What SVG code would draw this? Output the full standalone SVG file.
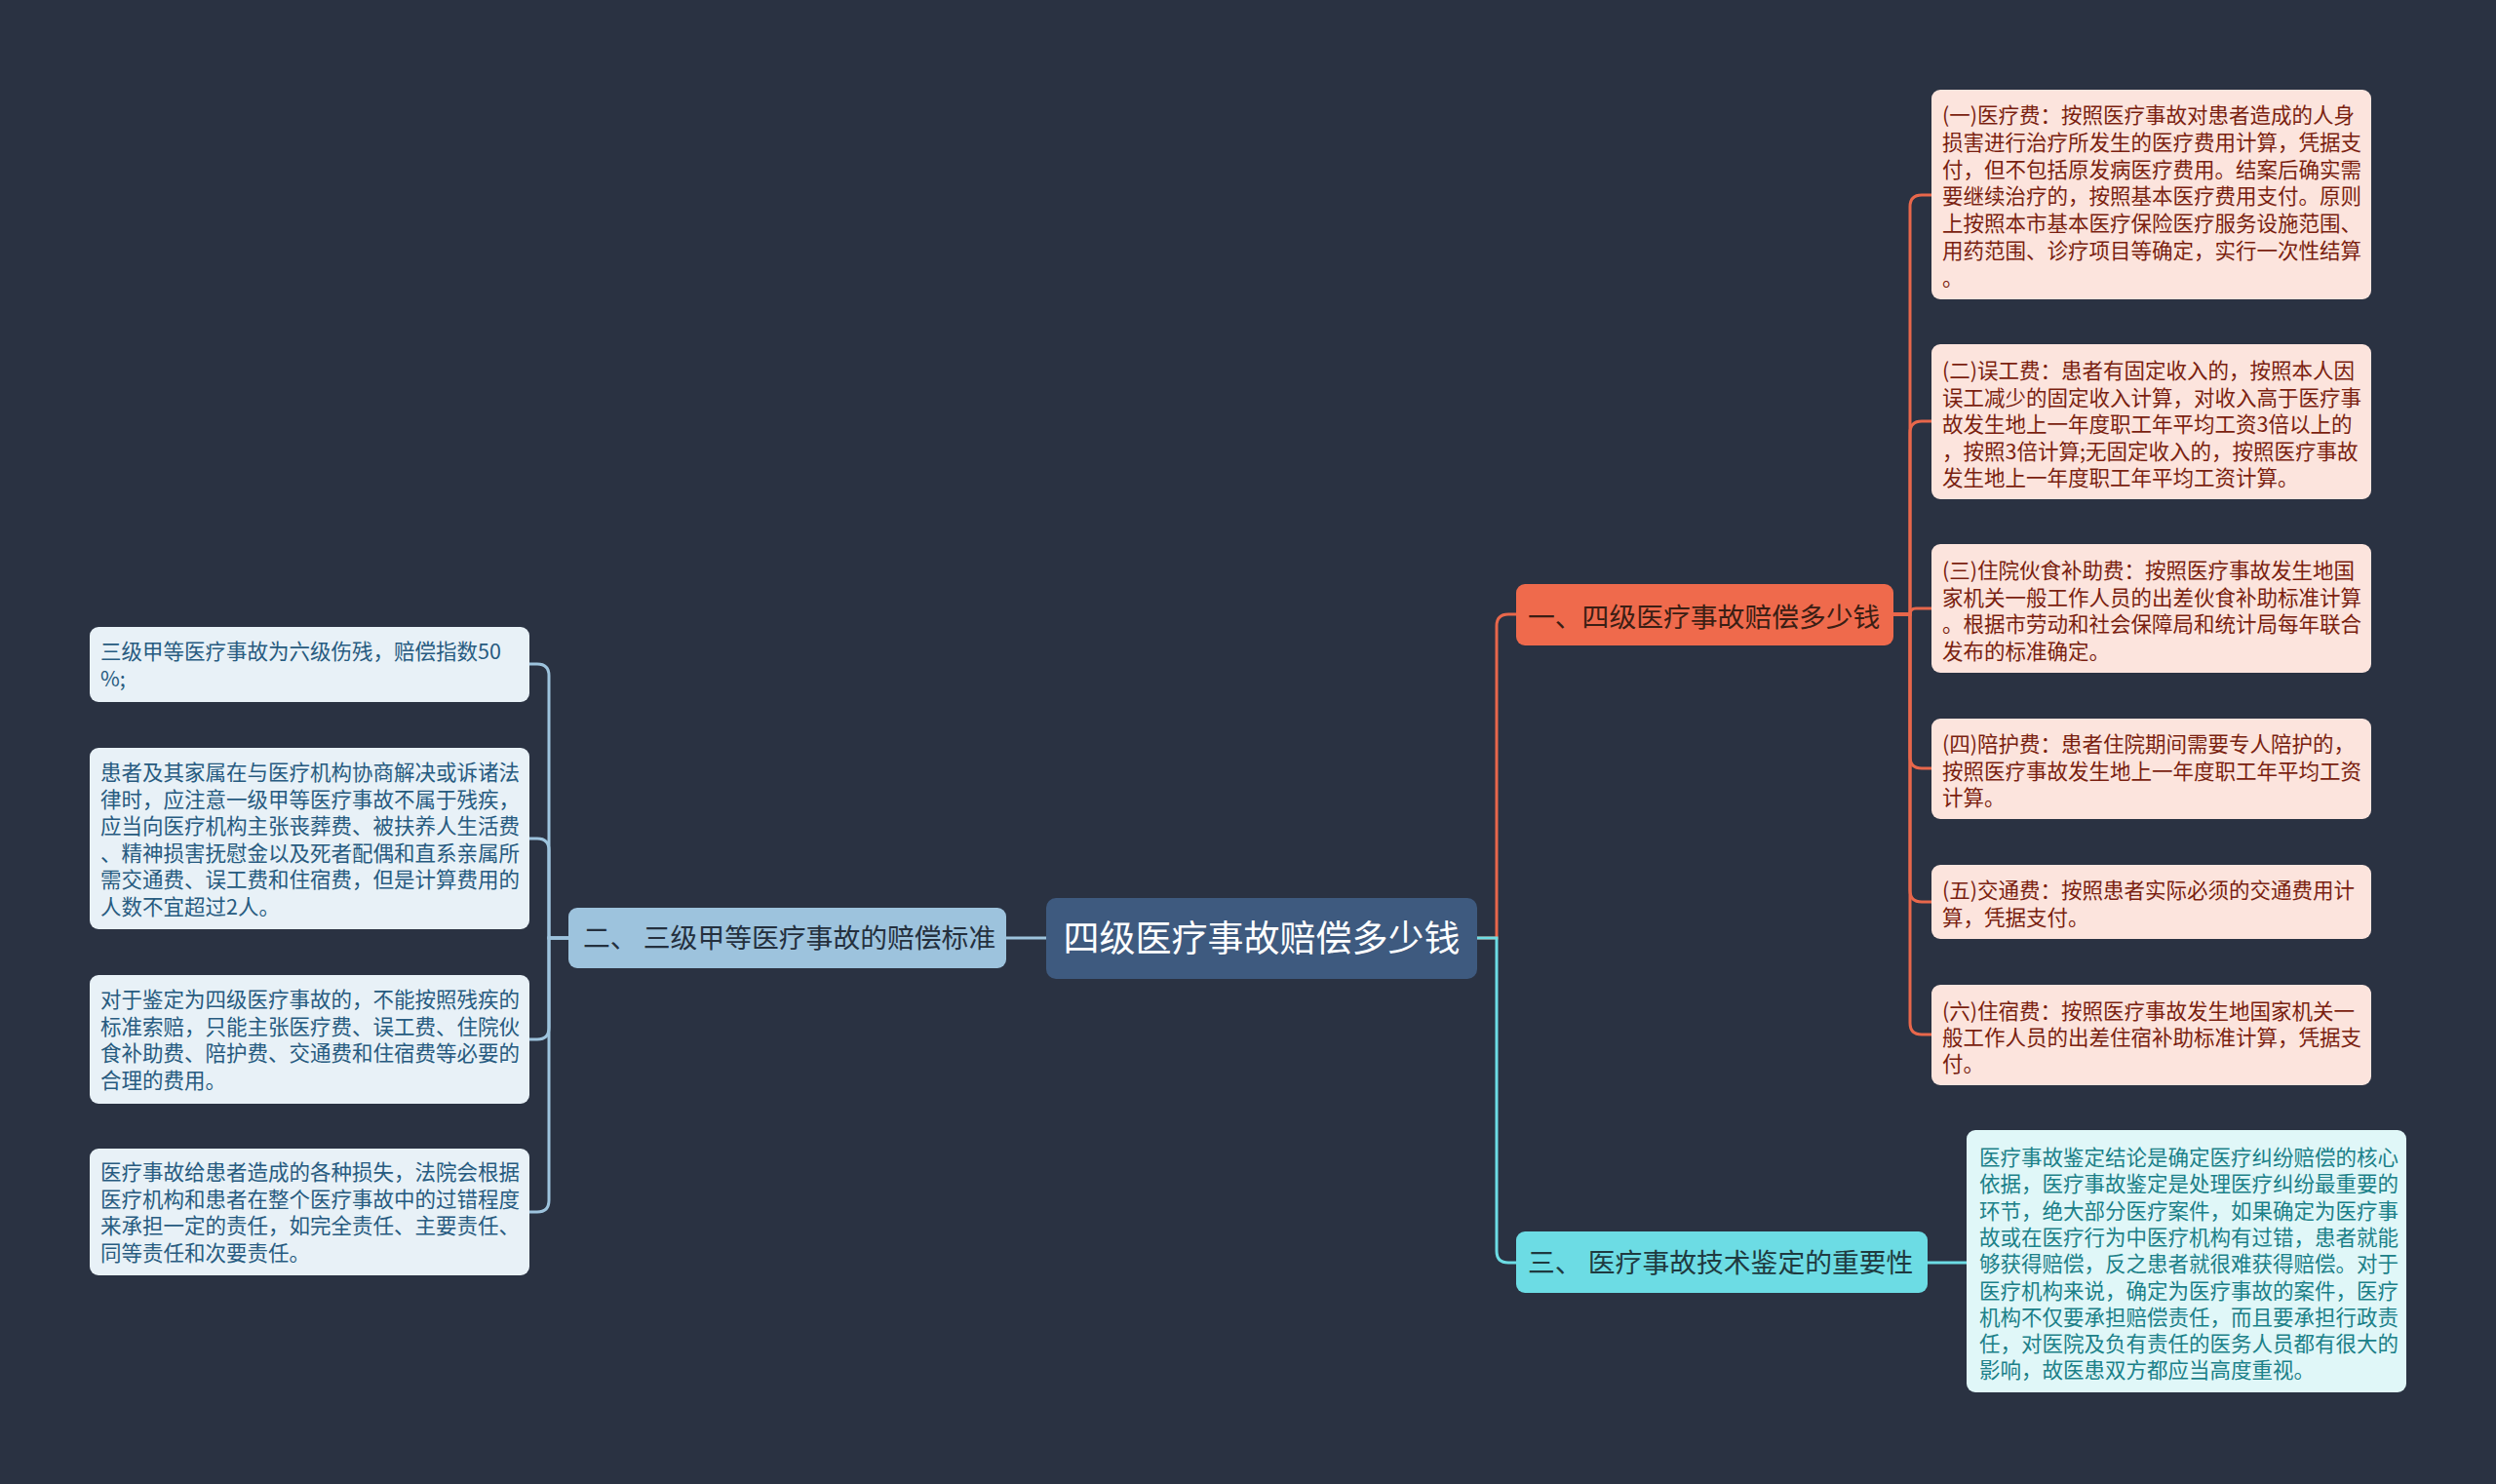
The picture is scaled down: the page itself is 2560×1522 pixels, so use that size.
<svg xmlns="http://www.w3.org/2000/svg" width="2560" height="1522" viewBox="0 0 2560 1522">
<style>
text{font-family:"Noto Sans CJK SC","Noto Sans",sans-serif;}
.leafR{fill:#fce4dd;}
.leafL{fill:#e8f1f7;}
.leafC{fill:#e0f7f8;}
.tR{fill:#7a1f10;font-size:21.5px;}
.tL{fill:#275b80;font-size:21.5px;}
.tC{fill:#1b8088;font-size:21.5px;}
.main{font-size:27.8px;}
.c{fill:none;stroke-width:3;}
.co{stroke:#e8674b;}
.cl{stroke:#9dc3dd;}
.cc{stroke:#6cdce4;}
</style>
<rect x="0" y="0" width="2560" height="1522" fill="#2a3242"/>

<g id="connectors">
  <path class="c cl" d="M1073,962 H1032"/>
  <path class="c co" d="M1515,962 H1535 V642 Q1535,630 1547,630 H1555"/>
  <path class="c cc" d="M1515,962 H1535 V1283 Q1535,1295 1547,1295 H1555"/>
  <path class="c co" d="M1942,630 H1959 V212 Q1959,200 1971,200 H1981"/>
  <path class="c co" d="M1942,630 H1959 V444 Q1959,432 1971,432 H1981"/>
  <path class="c co" d="M1942,630 H1959 Q1959,624 1965,624 H1981"/>
  <path class="c co" d="M1942,630 H1959 V776 Q1959,788 1971,788 H1981"/>
  <path class="c co" d="M1942,630 H1959 V913 Q1959,925 1971,925 H1981"/>
  <path class="c co" d="M1942,630 H1959 V1049 Q1959,1061 1971,1061 H1981"/>
  <path class="c cc" d="M1977,1295 H2017"/>
  <path class="c cl" d="M583,962 H563 V693 Q563,681 551,681 H543"/>
  <path class="c cl" d="M583,962 H563 V872 Q563,860 551,860 H543"/>
  <path class="c cl" d="M583,962 H563 V1054 Q563,1066 551,1066 H543"/>
  <path class="c cl" d="M583,962 H563 V1231 Q563,1243 551,1243 H543"/>
</g>

<g id="root">
  <rect x="1073" y="921" width="442" height="83" rx="10" fill="#3e5a7f"/>
  <text x="1294" y="976" font-size="37" fill="#ffffff" text-anchor="middle">四级医疗事故赔偿多少钱</text>
</g>

<g id="node1">
  <rect x="1555" y="599" width="387" height="63" rx="9" fill="#ef6a4c"/>
  <text class="main" x="1567" y="643" fill="#3b1e14">一、四级医疗事故赔偿多少钱</text>
</g>

<g id="node2">
  <rect x="583" y="931" width="449" height="62" rx="9" fill="#9dc3dd"/>
  <text class="main" x="598" y="972" fill="#24303e" xml:space="preserve">二、 三级甲等医疗事故的赔偿标准</text>
</g>

<g id="node3">
  <rect x="1555" y="1263" width="422" height="63" rx="9" fill="#6cdce4"/>
  <text class="main" x="1567" y="1305" fill="#1f3a40" xml:space="preserve">三、 医疗事故技术鉴定的重要性</text>
</g>

<g id="leaf1">
  <rect class="leafR" x="1981" y="92" width="451" height="215" rx="9"/>
  <text class="tR" x="1992" y="126">
    <tspan x="1992">(一)医疗费：按照医疗事故对患者造成的人身</tspan>
    <tspan x="1992" dy="27.8">损害进行治疗所发生的医疗费用计算，凭据支</tspan>
    <tspan x="1992" dy="27.8">付，但不包括原发病医疗费用。结案后确实需</tspan>
    <tspan x="1992" dy="27.8">要继续治疗的，按照基本医疗费用支付。原则</tspan>
    <tspan x="1992" dy="27.8">上按照本市基本医疗保险医疗服务设施范围、</tspan>
    <tspan x="1992" dy="27.8">用药范围、诊疗项目等确定，实行一次性结算</tspan>
    <tspan x="1992" dy="27.8">。</tspan>
  </text>
</g>

<g id="leaf2">
  <rect class="leafR" x="1981" y="353" width="451" height="159" rx="9"/>
  <text class="tR" x="1992" y="388">
    <tspan x="1992">(二)误工费：患者有固定收入的，按照本人因</tspan>
    <tspan x="1992" dy="27.5">误工减少的固定收入计算，对收入高于医疗事</tspan>
    <tspan x="1992" dy="27.5">故发生地上一年度职工年平均工资3倍以上的</tspan>
    <tspan x="1992" dy="27.5">，按照3倍计算;无固定收入的，按照医疗事故</tspan>
    <tspan x="1992" dy="27.5">发生地上一年度职工年平均工资计算。</tspan>
  </text>
</g>

<g id="leaf3">
  <rect class="leafR" x="1981" y="558" width="451" height="132" rx="9"/>
  <text class="tR" x="1992" y="593">
    <tspan x="1992">(三)住院伙食补助费：按照医疗事故发生地国</tspan>
    <tspan x="1992" dy="27.5">家机关一般工作人员的出差伙食补助标准计算</tspan>
    <tspan x="1992" dy="27.5">。根据市劳动和社会保障局和统计局每年联合</tspan>
    <tspan x="1992" dy="27.5">发布的标准确定。</tspan>
  </text>
</g>

<g id="leaf4">
  <rect class="leafR" x="1981" y="737" width="451" height="103" rx="9"/>
  <text class="tR" x="1992" y="771">
    <tspan x="1992">(四)陪护费：患者住院期间需要专人陪护的，</tspan>
    <tspan x="1992" dy="27.5">按照医疗事故发生地上一年度职工年平均工资</tspan>
    <tspan x="1992" dy="27.5">计算。</tspan>
  </text>
</g>

<g id="leaf5">
  <rect class="leafR" x="1981" y="887" width="451" height="76" rx="9"/>
  <text class="tR" x="1992" y="921">
    <tspan x="1992">(五)交通费：按照患者实际必须的交通费用计</tspan>
    <tspan x="1992" dy="28">算，凭据支付。</tspan>
  </text>
</g>

<g id="leaf6">
  <rect class="leafR" x="1981" y="1010" width="451" height="103" rx="9"/>
  <text class="tR" x="1992" y="1045">
    <tspan x="1992">(六)住宿费：按照医疗事故发生地国家机关一</tspan>
    <tspan x="1992" dy="27">般工作人员的出差住宿补助标准计算，凭据支</tspan>
    <tspan x="1992" dy="27">付。</tspan>
  </text>
</g>

<g id="leaf7">
  <rect class="leafC" x="2017" y="1159" width="451" height="269" rx="9"/>
  <text class="tC" x="2030" y="1195">
    <tspan x="2030">医疗事故鉴定结论是确定医疗纠纷赔偿的核心</tspan>
    <tspan x="2030" dy="27.3">依据，医疗事故鉴定是处理医疗纠纷最重要的</tspan>
    <tspan x="2030" dy="27.3">环节，绝大部分医疗案件，如果确定为医疗事</tspan>
    <tspan x="2030" dy="27.3">故或在医疗行为中医疗机构有过错，患者就能</tspan>
    <tspan x="2030" dy="27.3">够获得赔偿，反之患者就很难获得赔偿。对于</tspan>
    <tspan x="2030" dy="27.3">医疗机构来说，确定为医疗事故的案件，医疗</tspan>
    <tspan x="2030" dy="27.3">机构不仅要承担赔偿责任，而且要承担行政责</tspan>
    <tspan x="2030" dy="27.3">任，对医院及负有责任的医务人员都有很大的</tspan>
    <tspan x="2030" dy="27.3">影响，故医患双方都应当高度重视。</tspan>
  </text>
</g>

<g id="leafA">
  <rect class="leafL" x="92" y="643" width="451" height="77" rx="9"/>
  <text class="tL" x="103" y="676">
    <tspan x="103">三级甲等医疗事故为六级伤残，赔偿指数50</tspan>
    <tspan x="103" dy="28">%;</tspan>
  </text>
</g>

<g id="leafB">
  <rect class="leafL" x="92" y="767" width="451" height="186" rx="9"/>
  <text class="tL" x="103" y="800">
    <tspan x="103">患者及其家属在与医疗机构协商解决或诉诸法</tspan>
    <tspan x="103" dy="27.6">律时，应注意一级甲等医疗事故不属于残疾，</tspan>
    <tspan x="103" dy="27.6">应当向医疗机构主张丧葬费、被扶养人生活费</tspan>
    <tspan x="103" dy="27.6">、精神损害抚慰金以及死者配偶和直系亲属所</tspan>
    <tspan x="103" dy="27.6">需交通费、误工费和住宿费，但是计算费用的</tspan>
    <tspan x="103" dy="27.6">人数不宜超过2人。</tspan>
  </text>
</g>

<g id="leafC">
  <rect class="leafL" x="92" y="1000" width="451" height="132" rx="9"/>
  <text class="tL" x="103" y="1033">
    <tspan x="103">对于鉴定为四级医疗事故的，不能按照残疾的</tspan>
    <tspan x="103" dy="27.5">标准索赔，只能主张医疗费、误工费、住院伙</tspan>
    <tspan x="103" dy="27.5">食补助费、陪护费、交通费和住宿费等必要的</tspan>
    <tspan x="103" dy="27.5">合理的费用。</tspan>
  </text>
</g>

<g id="leafD">
  <rect class="leafL" x="92" y="1178" width="451" height="130" rx="9"/>
  <text class="tL" x="103" y="1210">
    <tspan x="103">医疗事故给患者造成的各种损失，法院会根据</tspan>
    <tspan x="103" dy="27.5">医疗机构和患者在整个医疗事故中的过错程度</tspan>
    <tspan x="103" dy="27.5">来承担一定的责任，如完全责任、主要责任、</tspan>
    <tspan x="103" dy="27.5">同等责任和次要责任。</tspan>
  </text>
</g>
</svg>
